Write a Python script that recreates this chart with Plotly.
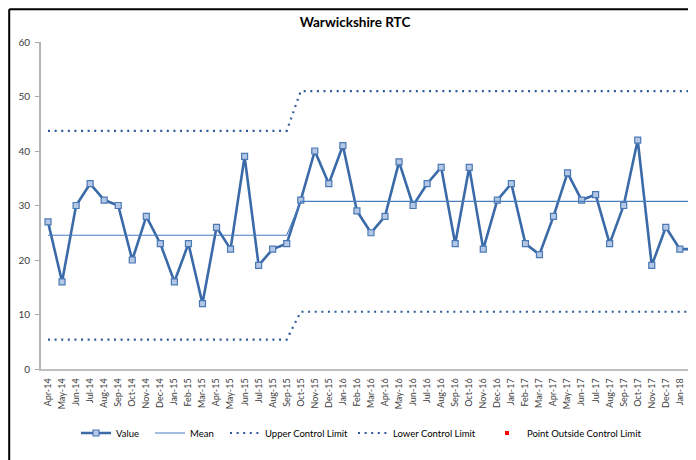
import plotly.graph_objects as go

months = ["Apr-14","May-14","Jun-14","Jul-14","Aug-14","Sep-14","Oct-14","Nov-14","Dec-14","Jan-15","Feb-15","Mar-15",
          "Apr-15","May-15","Jun-15","Jul-15","Aug-15","Sep-15","Oct-15","Nov-15","Dec-15","Jan-16","Feb-16","Mar-16",
          "Apr-16","May-16","Jun-16","Jul-16","Aug-16","Sep-16","Oct-16","Nov-16","Dec-16","Jan-17","Feb-17","Mar-17",
          "Apr-17","May-17","Jun-17","Jul-17","Aug-17","Sep-17","Oct-17","Nov-17","Dec-17","Jan-18","Feb-18"]
values = [27,16,30,34,31,30,20,28,23,16,23,12,
          26,22,39,19,22,23,31,40,34,41,29,25,
          28,38,30,34,37,23,37,22,31,34,23,21,
          28,36,31,32,23,30,42,19,26,22,22]
phase_lengths = [18, 29]
mean_levels = [24.55, 30.75]
ucl_levels = [43.7, 51.0]
lcl_levels = [5.4, 10.5]

def expand(levels):
    out = []
    for lv, n in zip(levels, phase_lengths):
        out += [lv] * n
    return out

mean = expand(mean_levels)
ucl = expand(ucl_levels)
lcl = expand(lcl_levels)

# page body has an 8px default margin; work in page pixel coords and offset
OFF = 8
PW, PH = 696, 460
W, H = PW - OFF, PH - OFF
L = 41 - OFF          # y axis at page x=41
T = 42 - OFF          # y=60 at page y=42
B = H - (369 - OFF)   # y=0 at page y=369
pw, ph = W - L, H - T - B

def px_x(px):
    return (px - OFF - L) / pw

def px_y(py):
    return (369 - py) / ph

FONT = "Lato"
blue = "#3B6AA8"
fig = go.Figure()
fig.add_trace(go.Scatter(x=months, y=values, name="Value", mode="lines+markers",
                         line=dict(color=blue, width=2.6), legend="legend",
                         marker=dict(symbol="square", size=6, color="#B4C8E6",
                                     line=dict(color="#4A78B5", width=1.2))))
fig.add_trace(go.Scatter(x=months, y=mean, name="Mean", mode="lines", legend="legend2",
                         line=dict(color="#4A7EBF", width=1.1)))
fig.add_trace(go.Scatter(x=months, y=ucl, name="Upper Control Limit", mode="lines", legend="legend3",
                         line=dict(color="#2D5A98", width=2.2, dash="2px,4.6px")))
fig.add_trace(go.Scatter(x=months, y=lcl, name="Lower Control Limit", mode="lines", legend="legend4",
                         line=dict(color="#2D5A98", width=2.2, dash="2px,4.6px")))
fig.add_trace(go.Scatter(x=[None], y=[None], name="Point Outside Control Limit", mode="markers",
                         legend="legend5",
                         marker=dict(symbol="square", size=4, color="#FF0000")))

def leg(xpx):
    return dict(orientation="h", x=px_x(xpx), xanchor="left", xref="paper",
                y=px_y(433), yanchor="middle", yref="paper",
                font=dict(family=FONT, size=9.5, color="#000000"),
                itemwidth=30, bgcolor="rgba(0,0,0,0)", borderwidth=0)

fig.update_layout(
    width=W, height=H,
    margin=dict(l=L, r=0, t=T, b=B, autoexpand=False),
    paper_bgcolor="white", plot_bgcolor="white",
    font=dict(family=FONT, color="#404040", size=10),
    title=dict(text="<b>Warwickshire RTC</b>", x=(355 - OFF) / W, xref="container", xanchor="center",
               y=1 - (22 - OFF) / H, yref="container", yanchor="middle",
               font=dict(family=FONT, size=13.5, color="#000000")),
    showlegend=True,
    legend=leg(76), legend2=leg(150), legend3=leg(225), legend4=leg(353), legend5=leg(487),
    xaxis=dict(type="category", range=[-0.5, 46.15], showgrid=False, zeroline=False,
               showline=True, linecolor="#BFBFBF", linewidth=1.5, ticks="",
               tickangle=-90, tickfont=dict(size=9, color="#404040"), dtick=1,
               ticklabelstandoff=4),
    yaxis=dict(range=[0, 60], dtick=10, showgrid=False, zeroline=False,
               showline=True, linecolor="#B3B3B3", linewidth=2, ticks="outside",
               ticklen=4, tickcolor="#A6A6A6", tickwidth=1,
               tickfont=dict(size=10, color="#404040"), ticklabelstandoff=3),
    shapes=[
        dict(type="line", xref="paper", yref="paper", x0=px_x(9.2), x1=px_x(710),
             y0=px_y(9.2), y1=px_y(9.2), line=dict(color="black", width=2)),
        dict(type="line", xref="paper", yref="paper", x0=px_x(9.2), x1=px_x(9.2),
             y0=px_y(9.2), y1=px_y(470), line=dict(color="black", width=2)),
    ],
)

fig.write_html("out.html")
